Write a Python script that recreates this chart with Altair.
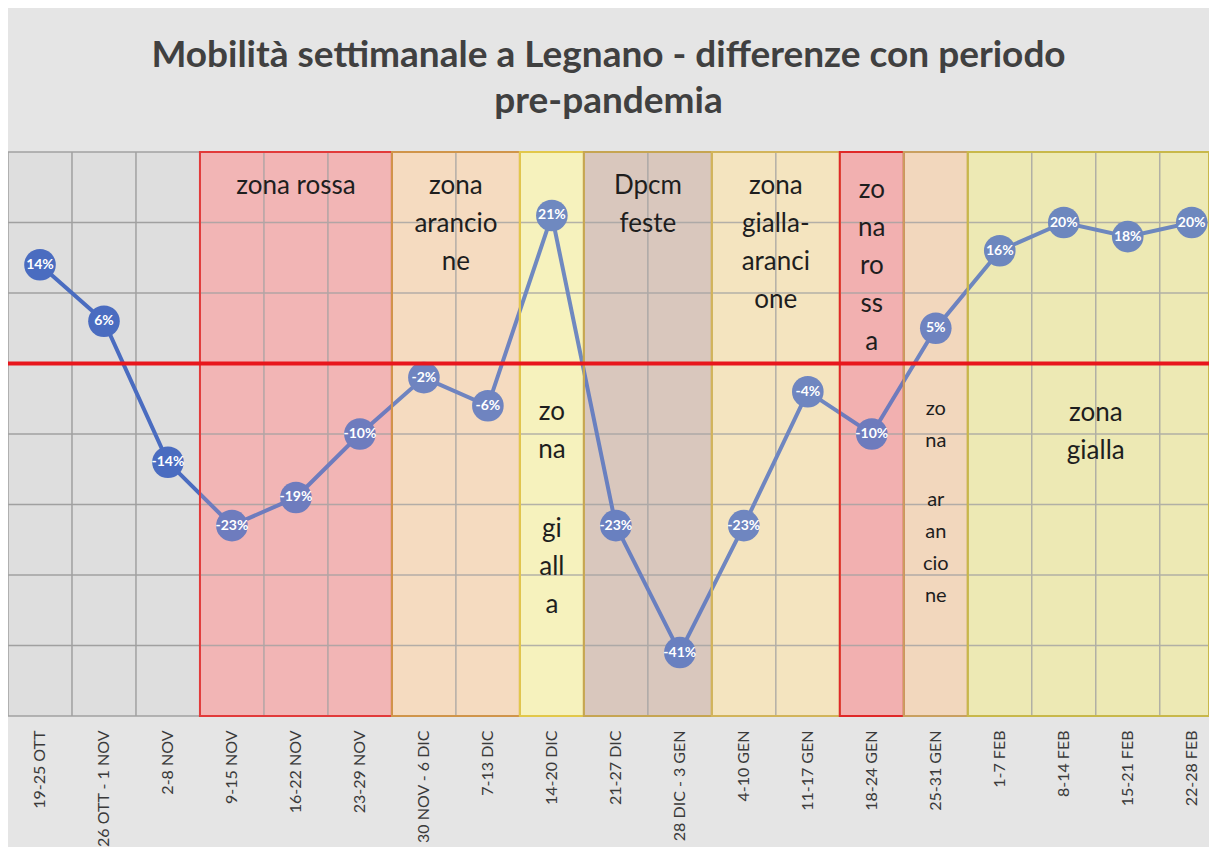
import altair as alt
import pandas as pd

weeks = ["19-25 OTT", "26 OTT - 1 NOV", "2-8 NOV", "9-15 NOV", "16-22 NOV",
         "23-29 NOV", "30 NOV - 6 DIC", "7-13 DIC", "14-20 DIC", "21-27 DIC",
         "28 DIC - 3 GEN", "4-10 GEN", "11-17 GEN", "18-24 GEN", "25-31 GEN",
         "1-7 FEB", "8-14 FEB", "15-21 FEB", "22-28 FEB"]
values = [14, 6, -14, -23, -19, -10, -2, -6, 21, -23, -41, -23, -4, -10, 5, 16, 20, 18, 20]

# colour zones (week index ranges)
zone_start = [3, 6, 8, 9, 11, 13, 14, 15]
zone_end = [6, 8, 9, 11, 13, 14, 15, 19]
zone_fill = ["#f2b5b5", "#f5dcc0", "#f7f2bd", "#d9c7bd", "#f4e5bf", "#f2b0b0", "#f3d8bd", "#eeeab4"]
zone_stroke = ["#e23a3a", "#d0954a", "#e2c84a", "#c6a552", "#d2b45a", "#e02828", "#c9a060", "#c8b84a"]

# zone annotations
label_text = ["zona rossa", "zona\narancio\nne", "zo\nna", "gi\nall\na", "Dpcm\nfeste",
              "zona\ngialla-\naranci\none", "zo\nna\nro\nss\na", "zo\nna", "ar\nan\ncio\nne",
              "zona\ngialla"]
label_zone = [0, 1, 2, 2, 3, 4, 5, 6, 6, 7]
label_y = [27.0, 27.0, -5.0, -21.6, 27.0, 27.0, 26.5, -5.0, -17.9, -5.2]
label_small = [0, 0, 0, 0, 0, 0, 0, 1, 1, 0]

grid_y = [-50, -40, -30, -20, -10, 0, 10, 20, 30]
grid_x = list(range(0, 20))
x_max = 18.77

pts = pd.DataFrame({
    "idx": [i + 0.5 for i in range(len(weeks))],
    "week": weeks,
    "val": values,
    "lab": [f"{v}%" for v in values],
})
zones = pd.DataFrame({
    "start": zone_start, "end": [min(e, x_max) for e in zone_end],
    "fill": zone_fill, "stroke": zone_stroke,
})
labels = pd.DataFrame({
    "text": label_text,
    "mid": [(zone_start[z] + zone_end[z]) / 2 for z in label_zone],
    "ty": label_y, "small": label_small,
})
gx = pd.DataFrame({"gx": [g for g in grid_x if g <= x_max]})
gy = pd.DataFrame({"gy": grid_y})
zero = pd.DataFrame({"z": [0]})

FONT = "Lato"

xscale = alt.Scale(domain=[0, x_max], nice=False, zero=False)
yscale = alt.Scale(domain=[min(grid_y), max(grid_y)], nice=False, zero=False)

label_expr = "[" + ",".join("'" + w + "'" for w in weeks) + "][floor(datum.value)]"
xaxis = alt.Axis(values=[i + 0.5 for i in range(len(weeks))], labelExpr=label_expr,
                 labelAngle=270, labelFont=FONT, labelFontSize=16, labelColor="#3a3a3a",
                 ticks=False, domain=False, grid=False, labelPadding=14, title=None,
                 labelFlush=False, labelOverlap=False)


def X(field):
    return alt.X(field, scale=xscale, axis=xaxis)


def Y(field):
    return alt.Y(field, scale=yscale, axis=None)


under = alt.Chart(zones).mark_rect().encode(
    x=X("start:Q"), x2="end:Q",
    fill=alt.Fill("fill:N", scale=None),
)
vgrid = alt.Chart(gx).mark_rule(color="#a0a0a0", strokeWidth=1.5).encode(x=X("gx:Q"))
hgrid = alt.Chart(gy).mark_rule(color="#a0a0a0", strokeWidth=1.5).encode(y=Y("gy:Q"))
line = alt.Chart(pts).mark_line(color="#4a6cc0", strokeWidth=4).encode(
    x=X("idx:Q"), y=Y("val:Q"))
circles = alt.Chart(pts).mark_circle(size=1000, color="#4a6cc0", opacity=1).encode(
    x=X("idx:Q"), y=Y("val:Q"))
over = alt.Chart(zones).mark_rect(fillOpacity=0.22, strokeWidth=2).encode(
    x=X("start:Q"), x2="end:Q",
    fill=alt.Fill("fill:N", scale=None),
    stroke=alt.Stroke("stroke:N", scale=None),
)
zline = alt.Chart(zero).mark_rule(color="#e8161c", strokeWidth=4).encode(y=Y("z:Q"))
plabels = alt.Chart(pts).mark_text(color="white", font=FONT, fontSize=14, fontWeight="bold").encode(
    x=X("idx:Q"), y=Y("val:Q"), text="lab:N")
ztext = alt.Chart(labels).transform_filter("datum.small == 0").mark_text(
    font=FONT, fontSize=26, color="#1e1e1e", baseline="top", align="center",
    lineBreak="\n", lineHeight=38).encode(
    x=X("mid:Q"), y=Y("ty:Q"), text="text:N")
ztext_small = alt.Chart(labels).transform_filter("datum.small == 1").mark_text(
    font=FONT, fontSize=20, color="#1e1e1e", baseline="top", align="center",
    lineBreak="\n", lineHeight=32).encode(
    x=X("mid:Q"), y=Y("ty:Q"), text="text:N")

chart = alt.layer(under, vgrid, hgrid, line, circles, over, zline, plabels, ztext, ztext_small).properties(
    width=1201, height=564,
    padding={"left": 0, "top": 144, "right": 0, "bottom": 131},
    autosize=alt.AutoSizeParams(type="none"),
    title=alt.TitleParams(
        text=["Mobilità settimanale a Legnano - differenze con periodo", "pre-pandemia"],
        font=FONT, fontSize=37, fontWeight="bold", color="#404040",
        lineHeight=46, anchor="middle", offset=30),
).configure(background="#e5e5e5").configure_view(stroke=None, fill="#dedede")

chart.save("out.html", embed_options={"renderer": "svg", "actions": False})
